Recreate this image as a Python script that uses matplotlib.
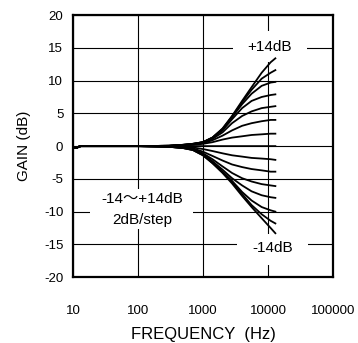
import matplotlib
matplotlib.use("Agg")
import matplotlib.pyplot as plt
from matplotlib.patches import Rectangle

plt.rcParams['font.family'] = ['Liberation Sans', 'Noto Sans CJK JP', 'DejaVu Sans']
plt.rcParams['axes.unicode_minus'] = False

freq = [10, 11, 13, 20, 100, 300, 500, 700, 1000, 1400, 2000, 2800, 4000, 5600, 8000, 11000, 13000]

g_p14 = [-0.3, -0.3, 0, 0, 0, 0.05, 0.2, 0.35, 0.6, 1.3, 2.7, 4.6, 6.9, 9.0, 11.2, 12.8, 13.4]
g_p12 = [-0.3, -0.3, 0, 0, 0, 0.05, 0.2, 0.35, 0.6, 1.3, 2.6, 4.5, 6.7, 8.6, 10.3, 11.2, 11.6]
g_p10 = [-0.3, -0.3, 0, 0, 0, 0.05, 0.2, 0.35, 0.6, 1.3, 2.6, 4.4, 6.4, 8.0, 9.2, 9.7, 9.8]
g_p8 = [-0.3, -0.3, 0, 0, 0, 0.05, 0.2, 0.3, 0.6, 1.2, 2.4, 4.1, 5.8, 6.9, 7.5, 7.8, 7.9]
g_p6 = [-0.3, -0.3, 0, 0, 0, 0.05, 0.15, 0.3, 0.5, 1.1, 2.1, 3.5, 4.6, 5.3, 5.8, 6.0, 6.1]
g_p4 = [-0.3, -0.3, 0, 0, 0, 0.05, 0.15, 0.25, 0.45, 0.9, 1.6, 2.4, 3.1, 3.5, 3.8, 4.0, 4.0]
g_p2 = [-0.3, -0.3, 0, 0, 0, 0, 0.1, 0.2, 0.35, 0.6, 1.0, 1.3, 1.5, 1.7, 1.8, 1.9, 1.9]
g_0 = [-0.3, -0.3, 0, 0, 0, 0, 0, 0, 0, 0, 0, 0, 0, 0, 0, 0, 0]
g_m2 = [-0.3, -0.3, 0, 0, 0, 0, -0.1, -0.2, -0.45, -0.75, -1.1, -1.4, -1.6, -1.8, -1.9, -2.0, -2.1]
g_m4 = [-0.3, -0.3, 0, 0, 0, -0.05, -0.15, -0.35, -0.85, -1.5, -2.2, -2.8, -3.2, -3.5, -3.7, -3.9, -3.9]
g_m6 = [-0.3, -0.3, 0, 0, 0, -0.05, -0.2, -0.45, -1.1, -2.0, -3.1, -4.1, -4.9, -5.4, -5.8, -6.0, -6.1]
g_m8 = [-0.3, -0.3, 0, 0, 0, -0.1, -0.25, -0.5, -1.2, -2.3, -3.6, -4.9, -6.0, -6.9, -7.5, -7.8, -7.9]
g_m10 = [-0.3, -0.3, 0, 0, 0, -0.1, -0.3, -0.55, -1.3, -2.5, -3.9, -5.3, -7.0, -8.3, -9.3, -9.8, -10.0]
g_m12 = [-0.3, -0.3, 0, 0, 0, -0.1, -0.3, -0.6, -1.4, -2.6, -4.0, -5.5, -7.3, -9.0, -10.4, -11.4, -11.8]
g_m14 = [-0.3, -0.3, 0, 0, 0, -0.1, -0.3, -0.6, -1.4, -2.6, -4.1, -5.7, -7.6, -9.3, -11.0, -12.5, -13.3]

curves = [g_p14, g_p12, g_p10, g_p8, g_p6, g_p4, g_p2, g_0,
          g_m2, g_m4, g_m6, g_m8, g_m10, g_m12, g_m14]

x_ticks = [10, 100, 1000, 10000, 100000]
x_tick_labels = ["10", "100", "1000", "10000", "100000"]
y_ticks = [-20, -15, -10, -5, 0, 5, 10, 15, 20]

fig = plt.figure(figsize=(3.58, 3.43), dpi=100)
ax = fig.add_axes([0.204, 0.192, 0.726, 0.764])
ax.set_xscale('log')
ax.set_xlim(10, 100000)
ax.set_ylim(-20, 20)
ax.set_xticks(x_ticks)
ax.set_xticklabels(x_tick_labels)
ax.minorticks_off()
ax.set_yticks(y_ticks)
ax.set_yticklabels([str(v) for v in y_ticks])
ax.tick_params(axis='both', length=0, labelsize=9.5)
ax.tick_params(axis='x', pad=20)
ax.tick_params(axis='y', pad=7)
ax.grid(True, color='black', linewidth=0.8, zorder=1)
ax.set_axisbelow(True)
for s in ax.spines.values():
    s.set_linewidth(1.6)
    s.set_zorder(5)

for c in curves:
    ax.plot(freq, c, color='black', linewidth=1.3, zorder=3)

# white masks behind labels
for (x0, y0, w, h) in [(0.615, 0.821, 0.285, 0.118),
                       (0.631, 0.046, 0.273, 0.118),
                       (0.065, 0.183, 0.397, 0.153)]:
    ax.add_patch(Rectangle((x0, y0), w, h, transform=ax.transAxes,
                           facecolor='white', edgecolor='none', zorder=2))

ax.text(0.757, 0.880, "+14dB", transform=ax.transAxes, ha='center', va='center',
        fontsize=11, zorder=4)
ax.text(0.769, 0.111, "-14dB", transform=ax.transAxes, ha='center', va='center',
        fontsize=11, zorder=4)
ax.text(0.265, 0.298, "-14～+14dB", transform=ax.transAxes, ha='center', va='center',
        fontsize=11, zorder=4)
ax.text(0.265, 0.218, "2dB/step", transform=ax.transAxes, ha='center', va='center',
        fontsize=11, zorder=4)

ax.set_xlabel("FREQUENCY  (Hz)", fontsize=12, labelpad=7)
ax.set_ylabel("GAIN (dB)", fontsize=11, labelpad=9)

fig.savefig("out.png", dpi=100)
